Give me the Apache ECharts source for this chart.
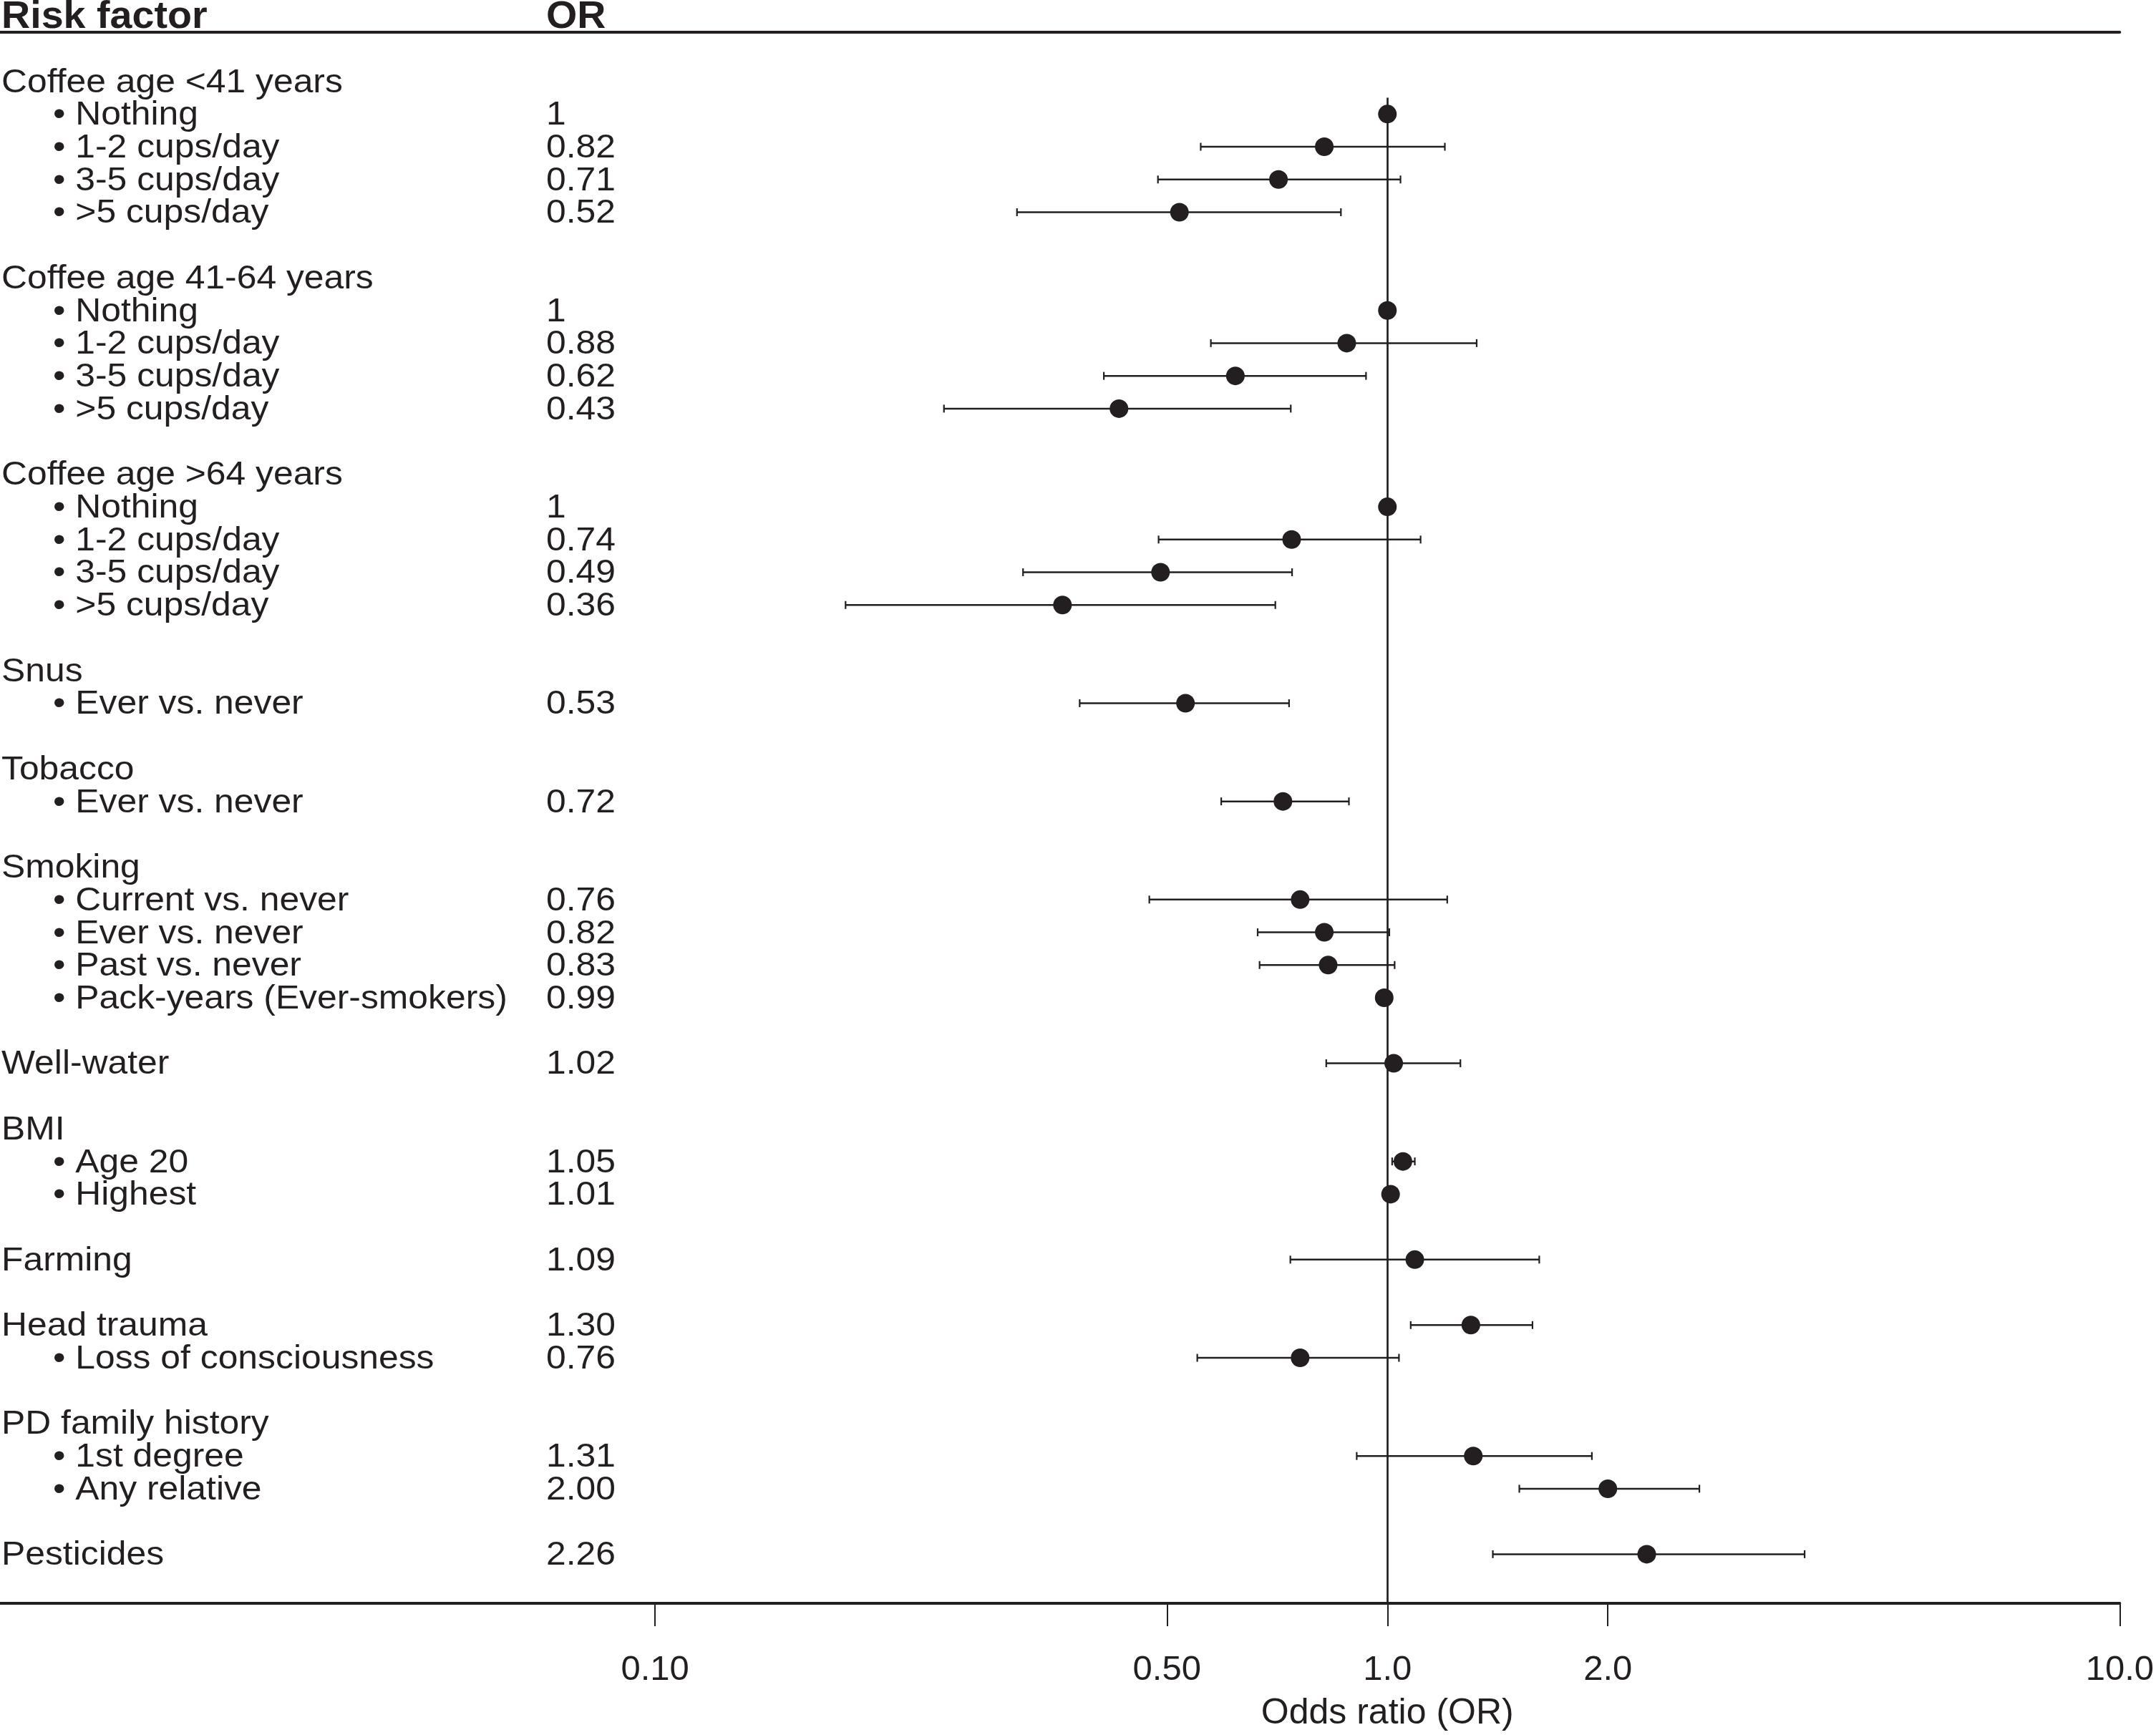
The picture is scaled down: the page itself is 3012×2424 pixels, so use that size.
<!DOCTYPE html>
<html>
<head>
<meta charset="utf-8">
<script src="https://cdn.jsdelivr.net/npm/echarts@6/dist/echarts.min.js"></script>
<style>
  html, body { margin: 0; padding: 0; background: #ffffff; }
  #chart { width: 3012px; height: 2424px; }
</style>
</head>
<body>
<div id="chart"></div>
<script>
// ---------------- DATA ----------------
// One entry per row slot (top to bottom); '' = blank spacer row
const rowLabels = [
  'Coffee age <41 years', '• Nothing', '• 1-2 cups/day', '• 3-5 cups/day', '• >5 cups/day', '',
  'Coffee age 41-64 years', '• Nothing', '• 1-2 cups/day', '• 3-5 cups/day', '• >5 cups/day', '',
  'Coffee age >64 years', '• Nothing', '• 1-2 cups/day', '• 3-5 cups/day', '• >5 cups/day', '',
  'Snus', '• Ever vs. never', '',
  'Tobacco', '• Ever vs. never', '',
  'Smoking', '• Current vs. never', '• Ever vs. never', '• Past vs. never', '• Pack-years (Ever-smokers)', '',
  'Well-water', '',
  'BMI', '• Age 20', '• Highest', '',
  'Farming', '',
  'Head trauma', '• Loss of consciousness', '',
  'PD family history', '• 1st degree', '• Any relative', '',
  'Pesticides'
];
const orText = [
  '', '1', '0.82', '0.71', '0.52', '',
  '', '1', '0.88', '0.62', '0.43', '',
  '', '1', '0.74', '0.49', '0.36', '',
  '', '0.53', '',
  '', '0.72', '',
  '', '0.76', '0.82', '0.83', '0.99', '',
  '1.02', '',
  '', '1.05', '1.01', '',
  '1.09', '',
  '1.30', '0.76', '',
  '', '1.31', '2.00', '',
  '2.26'
];
const orValues = [
  null, 1, 0.82, 0.71, 0.52, null,
  null, 1, 0.88, 0.62, 0.43, null,
  null, 1, 0.74, 0.49, 0.36, null,
  null, 0.53, null,
  null, 0.72, null,
  null, 0.76, 0.82, 0.83, 0.99, null,
  1.02, null,
  null, 1.05, 1.01, null,
  1.09, null,
  1.30, 0.76, null,
  null, 1.31, 2.00, null,
  2.26
];
const ciLow = [
  null, null, 0.556, 0.486, 0.312, null,
  null, null, 0.574, 0.410, 0.248, null,
  null, null, 0.487, 0.318, 0.182, null,
  null, 0.380, null,
  null, 0.593, null,
  null, 0.473, 0.665, 0.669, null, null,
  0.825, null,
  null, 1.015, null, null,
  0.737, null,
  1.076, 0.550, null,
  null, 0.908, 1.514, null,
  1.393
];
const ciHigh = [
  null, null, 1.198, 1.042, 0.864, null,
  null, null, 1.324, 0.935, 0.738, null,
  null, null, 1.110, 0.741, 0.703, null,
  null, 0.734, null,
  null, 0.886, null,
  null, 1.207, 1.006, 1.023, null, null,
  1.258, null,
  null, 1.090, null, null,
  1.612, null,
  1.578, 1.037, null,
  null, 1.902, 2.667, null,
  3.713
];
const tickValues = [0.1, 0.5, 1, 2, 10];
const tickLabels = ['0.10', '0.50', '1.0', '2.0', '10.0'];
const headerLabels = ['Risk factor', 'OR'];
const axisTitle = 'Odds ratio (OR)';

// ---------------- STYLE ----------------
const INK = '#231f20';
const FONT = '"Liberation Sans", Arial, Helvetica, sans-serif';
const X_MIN = 0.012748, X_MAX = 10;
const Y_MIN = -1.5, Y_MAX = 46.5;

const pointData = [];
const ciData = [];
const textData = [];
rowLabels.forEach((lab, i) => {
  if (orValues[i] != null) pointData.push([orValues[i], i]);
  if (ciLow[i] != null && ciHigh[i] != null) ciData.push([ciLow[i], ciHigh[i], i]);
  textData.push([1, i]);
});

const chart = echarts.init(document.getElementById('chart'), null, { renderer: 'canvas' });

const option = {
  animation: false,
  backgroundColor: '#ffffff',
  grid: { left: 0, right: 48, top: 45, bottom: 184, containLabel: false },
  xAxis: [
    {
      type: 'log', logBase: 10, min: X_MIN, max: X_MAX, position: 'bottom',
      axisLine: { show: true, onZero: false, lineStyle: { color: INK, width: 4 } },
      axisTick: { show: true, inside: false, length: 32, customValues: tickValues,
                  lineStyle: { color: INK, width: 2 } },
      axisLabel: {
        show: true, margin: 69, customValues: tickValues,
        color: INK, fontSize: 49, fontFamily: FONT,
        formatter: function (v) {
          for (let k = 0; k < tickValues.length; k++) {
            if (Math.abs(v - tickValues[k]) < 1e-6 * tickValues[k]) return tickLabels[k];
          }
          return '';
        }
      },
      splitLine: { show: false }
    },
    {
      type: 'log', logBase: 10, min: X_MIN, max: X_MAX, position: 'top',
      axisLine: { show: true, onZero: false, lineStyle: { color: INK, width: 4 } },
      axisTick: { show: false }, axisLabel: { show: false }, splitLine: { show: false }
    }
  ],
  yAxis: {
    type: 'value', inverse: true, min: Y_MIN, max: Y_MAX, show: false,
    splitLine: { show: false }
  },
  series: [
    {
      name: 'CI', type: 'custom', data: ciData, encode: { x: [0, 1], y: 2 }, z: 3,
      renderItem: function (params, api) {
        const s = api.value(2);
        const a = api.coord([api.value(0), s]);
        const b = api.coord([api.value(1), s]);
        const h = 5.5;
        return {
          type: 'group',
          children: [
            { type: 'line', shape: { x1: a[0], y1: a[1], x2: b[0], y2: b[1] },
              style: { stroke: INK, lineWidth: 2.5 } },
            { type: 'line', shape: { x1: a[0], y1: a[1] - h, x2: a[0], y2: a[1] + h },
              style: { stroke: INK, lineWidth: 2.2 } },
            { type: 'line', shape: { x1: b[0], y1: b[1] - h, x2: b[0], y2: b[1] + h },
              style: { stroke: INK, lineWidth: 2.2 } }
          ]
        };
      }
    },
    {
      name: 'OR', type: 'scatter', data: pointData, symbol: 'circle', symbolSize: 26, z: 4,
      itemStyle: { color: INK, opacity: 1 },
      markLine: {
        silent: true, symbol: ['none', 'none'], label: { show: false },
        lineStyle: { color: INK, width: 2.7, type: 'solid', opacity: 1 },
        data: [[{ coord: [1, 0.5] }, { coord: [1, Y_MAX] }]]
      }
    },
    {
      name: 'table', type: 'custom', data: textData, encode: { x: 0, y: 1 }, z: 5, silent: true,
      renderItem: function (params, api) {
        const i = params.dataIndex;
        const cs = params.coordSys;
        const y = api.coord([1, api.value(1)])[1] + 2;
        const children = [];
        const lab = rowLabels[i];
        if (lab) {
          const bullet = lab.charAt(0) === '•';
          children.push({
            type: 'text', x: cs.x + (bullet ? 74 : 2), y: y, scaleX: 1.06,
            style: { text: lab, fontSize: 47, fontFamily: FONT, fill: INK, align: 'left', verticalAlign: 'middle' }
          });
        }
        if (orText[i]) {
          children.push({
            type: 'text', x: cs.x + 763, y: y, scaleX: 1.06,
            style: { text: orText[i], fontSize: 47, fontFamily: FONT, fill: INK, align: 'left', verticalAlign: 'middle' }
          });
        }
        return { type: 'group', children: children };
      }
    },
    {
      name: 'header', type: 'custom', data: [[1, -2]], encode: { x: 0, y: 1 }, z: 5, silent: true,
      renderItem: function (params, api) {
        const cs = params.coordSys;
        const y = api.coord([1, api.value(1)])[1] + 2;
        return {
          type: 'group',
          children: [
            { type: 'text', x: cs.x + 2, y: y, scaleX: 1.05,
              style: { text: headerLabels[0], fontSize: 53, fontWeight: 'bold', fontFamily: FONT, fill: INK, align: 'left', verticalAlign: 'middle' } },
            { type: 'text', x: cs.x + 763, y: y, scaleX: 1.05,
              style: { text: headerLabels[1], fontSize: 53, fontWeight: 'bold', fontFamily: FONT, fill: INK, align: 'left', verticalAlign: 'middle' } }
          ]
        };
      }
    },
    {
      name: 'axisTitle', type: 'custom', data: [[1, Y_MAX]], encode: { x: 0, y: 1 }, z: 5, silent: true,
      renderItem: function (params, api) {
        const p = api.coord([api.value(0), api.value(1)]);
        return {
          type: 'text', x: p[0], y: p[1] + 154,
          style: { text: axisTitle, fontSize: 50, fontFamily: FONT, fill: INK, align: 'center', verticalAlign: 'middle' }
        };
      }
    }
  ]
};
chart.setOption(option);
</script>
</body>
</html>
